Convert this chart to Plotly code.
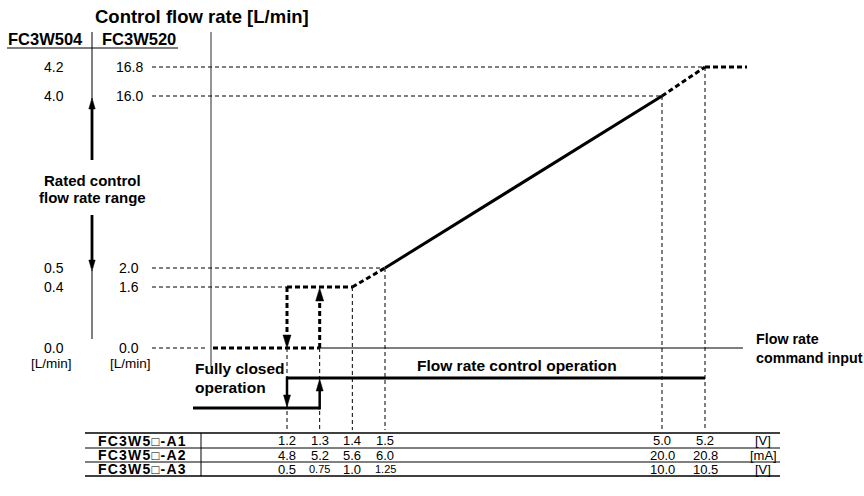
import numpy as np
import plotly.graph_objects as go

# ---------------- data ----------------
flow_504_labels = ["0.0", "0.4", "0.5", "4.0", "4.2"]
flow_520_values = [0.0, 1.6, 2.0, 16.0, 16.8]
flow_520_labels = ["0.0", "1.6", "2.0", "16.0", "16.8"]

cmd_a1_values = [1.2, 1.3, 1.4, 1.5, 5.0, 5.2]
cmd_a1_labels = ["1.2", "1.3", "1.4", "1.5", "5.0", "5.2"]
cmd_a2_labels = ["4.8", "5.2", "5.6", "6.0", "20.0", "20.8"]
cmd_a3_labels = ["0.5", "0.75", "1.0", "1.25", "10.0", "10.5"]
row_names = ["FC3W5\u25a1-A1", "FC3W5\u25a1-A2", "FC3W5\u25a1-A3"]
row_units = ["[V]", "[mA]", "[V]"]

# characteristic: command (A1, V) -> control flow (FC3W520, L/min)
close_cmd = 1.2      # valve fully closes when falling below
open_cmd = 1.3       # valve opens when rising above
min_flow = 1.6
rated_low_cmd, rated_low_flow = 1.5, 2.0
rated_high_cmd, rated_high_flow = 5.0, 16.0
max_cmd, max_flow = 5.2, 16.8
knee_cmd = 1.4

# ---------------- schematic (not-to-scale) axes ----------------
X_BREAK_V = [0.0, 1.2, 1.5, 5.0, 5.2]
X_BREAK_PX = [211, 287, 385, 662, 705]
Y_BREAK_F = [0.0, 1.6, 2.0, 16.0, 16.8]
Y_BREAK_PX = [348, 287, 268, 96, 67]


def sx(v):
    return float(np.interp(v, X_BREAK_V, X_BREAK_PX))


def sy(f):
    return float(np.interp(f, Y_BREAK_F, Y_BREAK_PX))


FONT = "Liberation Sans, Arial, Helvetica, DejaVu Sans, sans-serif"
BLACK = "#000000"
GRAY = "#7a7a7a"
THIN_DASH = "4px,3px"
THICK_DOT = "5px,3px"

AXIS_X = sx(0.0)
LABEL_LINE_START = 152
CMD_AXIS_END = 743
FLAT_END = 747
TABLE_TOP = 433
TABLE_ROWS = [448, 462, 476]
TABLE_LEFT, TABLE_RIGHT, TABLE_SPLIT = 85, 780, 201
STEP_HI, STEP_LO = 378, 408

fig = go.Figure()


def seg(xs, ys, width=1, dash=None, color=BLACK):
    fig.add_trace(go.Scatter(x=xs, y=ys, mode="lines",
                             line=dict(color=color, width=width, dash=dash),
                             hoverinfo="skip", showlegend=False))


def head(x, tip, direction, length=11, half=3.5):
    # direction: +1 pointing down (towards larger pixel y), -1 pointing up
    base = tip - direction * length
    fig.add_trace(go.Scatter(x=[x - half, x + half, x, x - half],
                             y=[base, base, tip, base], mode="lines",
                             fill="toself", fillcolor=BLACK,
                             line=dict(color=BLACK, width=0.5),
                             hoverinfo="skip", showlegend=False))


def text(x, y, s, size=15, bold=False, anchor="center", color=BLACK):
    fig.add_annotation(x=x, y=y, xref="x", yref="y", text=(f"<b>{s}</b>" if bold else s),
                       showarrow=False, xanchor=anchor, yanchor="middle",
                       font=dict(family=FONT, size=size, color=color))


# gray vertical axis
seg([AXIS_X, AXIS_X], [32, 367], width=1.6, color=GRAY)

# horizontal reference lines from flow labels
seg([LABEL_LINE_START, sx(max_cmd)], [sy(max_flow)] * 2, dash=THIN_DASH)
seg([LABEL_LINE_START, sx(rated_high_cmd)], [sy(rated_high_flow)] * 2, dash=THIN_DASH)
seg([LABEL_LINE_START, sx(rated_low_cmd)], [sy(rated_low_flow)] * 2, dash=THIN_DASH)
seg([LABEL_LINE_START, sx(close_cmd)], [sy(min_flow)] * 2, dash=THIN_DASH)
seg([LABEL_LINE_START, AXIS_X - 3], [sy(0)] * 2, dash=THIN_DASH)

# vertical reference lines down to the table
vert_tops = [sy(0), sy(0), sy(min_flow), sy(rated_low_flow), sy(rated_high_flow), sy(max_flow)]
for v, top in zip(cmd_a1_values, vert_tops):
    seg([sx(v), sx(v)], [top, TABLE_TOP - 3], dash=THIN_DASH)

# zero line (command input axis)
seg([AXIS_X + 2, sx(open_cmd)], [sy(0)] * 2, width=3, dash=THICK_DOT)
seg([sx(open_cmd), CMD_AXIS_END], [sy(0)] * 2, width=1.2)

# characteristic curve
seg([sx(close_cmd), sx(knee_cmd)], [sy(min_flow)] * 2, width=3, dash=THICK_DOT)
seg([sx(knee_cmd), sx(rated_low_cmd)], [sy(min_flow), sy(rated_low_flow)], width=3, dash=THICK_DOT)
seg([sx(rated_low_cmd), sx(rated_high_cmd)], [sy(rated_low_flow), sy(rated_high_flow)], width=3)
seg([sx(rated_high_cmd), sx(max_cmd)], [sy(rated_high_flow), sy(max_flow)], width=3, dash=THICK_DOT)
seg([sx(max_cmd), FLAT_END], [sy(max_flow)] * 2, width=3, dash=THICK_DOT)

# hysteresis arrows (dotted)
seg([sx(close_cmd), sx(close_cmd)], [sy(min_flow), sy(0) - 8], width=3, dash=THICK_DOT)
head(sx(close_cmd), sy(0), +1, length=13, half=4)
seg([sx(open_cmd), sx(open_cmd)], [sy(0), sy(min_flow) + 8], width=3, dash=THICK_DOT)
head(sx(open_cmd), sy(min_flow) + 1, -1, length=13, half=4)

# operation step line
seg([sx(close_cmd), sx(max_cmd)], [STEP_HI, STEP_HI], width=3)
seg([193, sx(open_cmd)], [STEP_LO, STEP_LO], width=3)
seg([sx(close_cmd), sx(close_cmd)], [STEP_HI - 1.5, STEP_LO - 8], width=2.5)
head(sx(close_cmd), STEP_LO - 1, +1, length=12, half=3.5)
seg([sx(open_cmd), sx(open_cmd)], [STEP_LO + 1.5, STEP_HI + 8], width=2.5)
head(sx(open_cmd), STEP_HI + 1, -1, length=12, half=3.5)

# rated control range bracket on the left
seg([92, 92], [32, 100], width=1)
head(92, 98, -1, length=11, half=3.2)
seg([92, 92], [108, 160], width=2.8)
seg([92, 92], [215, 261], width=2.8)
head(92, 271, +1, length=11, half=3.2)
seg([92, 92], [270, 339], width=1)

# header underline
seg([7, 178], [48, 48], width=1.2)

# table
seg([TABLE_LEFT, TABLE_RIGHT], [TABLE_TOP, TABLE_TOP], width=1.6)
seg([TABLE_LEFT, TABLE_RIGHT], [TABLE_ROWS[0]] * 2, width=1)
seg([TABLE_LEFT, TABLE_RIGHT], [TABLE_ROWS[1]] * 2, width=1)
seg([TABLE_LEFT, TABLE_RIGHT], [TABLE_ROWS[2]] * 2, width=1.6)
seg([TABLE_SPLIT, TABLE_SPLIT], [TABLE_TOP, TABLE_ROWS[2]], width=1)

row_centers = [440.5, 455, 469]
for name, unit, labels, yc in zip(row_names, row_units,
                                  [cmd_a1_labels, cmd_a2_labels, cmd_a3_labels], row_centers):
    styled = name.replace("\u25a1", "<span style='font-family:Liberation Sans;font-size:13px;font-weight:normal'>\u25a1</span>")
    styled = f"<span style='letter-spacing:1.2px'>{styled}</span>"
    text(142, yc, styled, size=14, bold=True, anchor="center")
    for v, lab in zip(cmd_a1_values, labels):
        text(sx(v), yc, lab, size=(11 if len(lab) > 3 and v < 2 else 13))
    text(763, yc, unit, size=13)

# flow labels
for f, l504, l520 in zip(flow_520_values, flow_504_labels, flow_520_labels):
    text(54, sy(f), l504, size=14)
    text(129, sy(f), l520, size=14)
text(51, 363, "[L/min]", size=13.5)
text(130, 363, "[L/min]", size=13.5)

# titles
text(93, 16, "Control flow rate [L/min]", size=18.5, bold=True, anchor="left")
text(45, 39, "FC3W504", size=16.5, bold=True)
text(139, 39, "FC3W520", size=16.5, bold=True)
text(92, 180, "Rated control", size=15, bold=True)
text(92, 197, "flow rate range", size=15, bold=True)
text(193, 368, "Fully closed", size=15.5, bold=True, anchor="left")
text(193, 387, "operation", size=15.5, bold=True, anchor="left")
text(415, 365, "Flow rate control operation", size=15.5, bold=True, anchor="left")
text(754, 339, "Flow rate", size=14.3, bold=True, anchor="left")
text(754, 358, "command input", size=14.3, bold=True, anchor="left")

fig.update_layout(
    width=864, height=496,
    margin=dict(l=0, r=0, t=0, b=0),
    paper_bgcolor="white", plot_bgcolor="white",
    xaxis=dict(range=[0, 864], visible=False, fixedrange=True),
    yaxis=dict(range=[496, 0], visible=False, fixedrange=True),
    showlegend=False,
)

fig.write_html("out.html", post_script="document.body.style.margin='0';",
               config={"displayModeBar": False})
